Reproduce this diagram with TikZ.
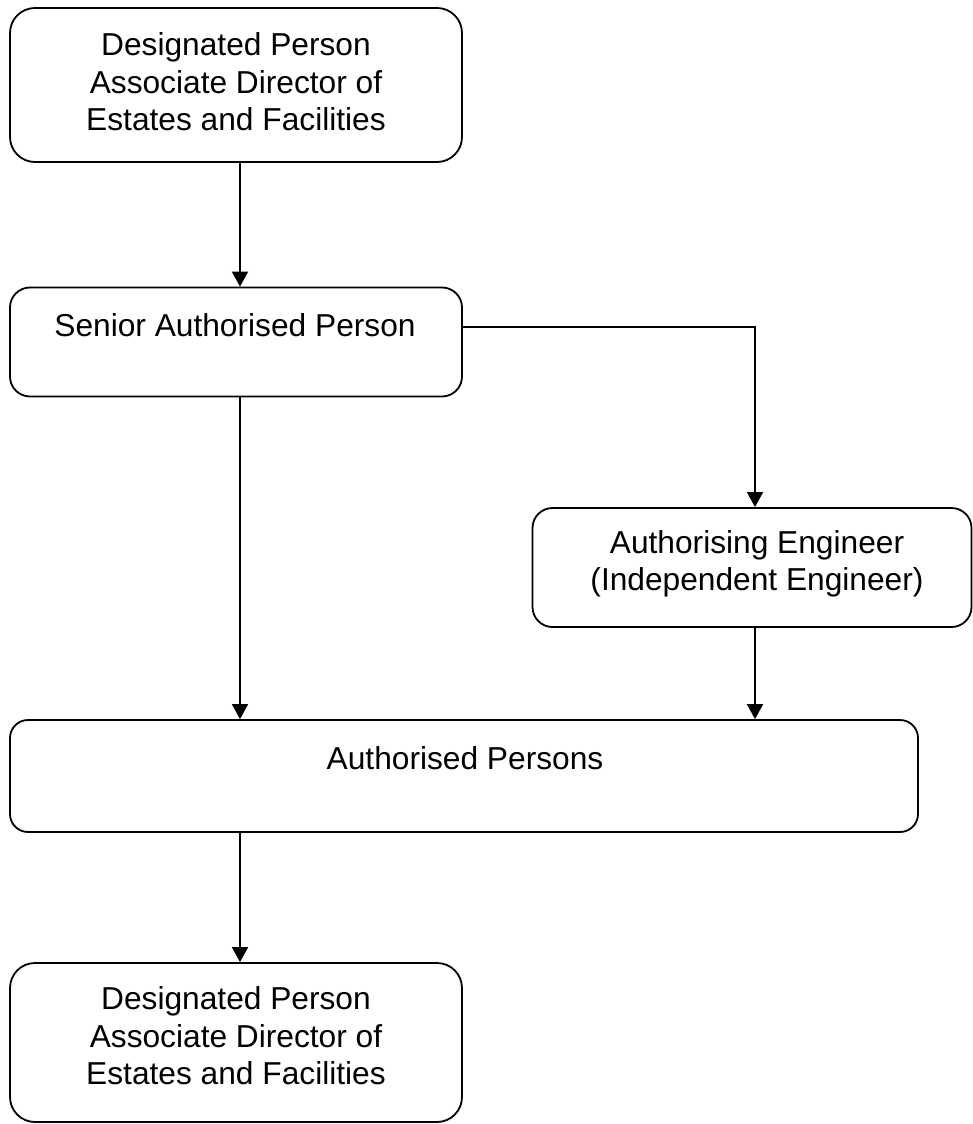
\documentclass[tikz,border=0pt]{standalone}
\usepackage{fontspec}
\setmainfont{Liberation Sans}
\usetikzlibrary{arrows.meta}
\begin{document}
\begin{tikzpicture}[x=1pt,y=-1pt,
  box/.style={draw, line width=1.8pt, rounded corners=#1, inner sep=0pt},
  box/.default=20pt,
  txt/.style={align=center, inner sep=0pt, font=\fontsize{31.7}{37.5}\selectfont},
  arr/.style={line width=1.8pt, -{Triangle[length=15pt,width=16pt]}}]
\useasboundingbox (0,0) rectangle (973,1124);
% boxes
\node[box=25pt, minimum width=452pt, minimum height=154pt] (dp1) at (236,85) {};
\node[box=20pt, minimum width=452pt, minimum height=109pt] (sap) at (236,342) {};
\node[box=20pt, minimum width=439pt, minimum height=119pt] (ae) at (752,567.5) {};
\node[box=18pt, minimum width=908pt, minimum height=112pt] (ap) at (464,776) {};
\node[box=25pt, minimum width=452pt, minimum height=159pt] (dp2) at (236,1042.5) {};
% texts
\node[txt] (t1) at (236,82) {Designated Person\\Associate Director of\\Estates and Facilities};
\node[txt] (t2) at (235,325) {Senior Authorised Person};
\node[txt] (t3) at (757,564) {Authorising Engineer\\(Independent Engineer)};
\node[txt] (t4) at (465,758) {Authorised Persons};
\node[txt] (t5) at (236,1036) {Designated Person\\Associate Director of\\Estates and Facilities};
% connectors
\draw[arr] ([xshift=4pt]dp1.south) -- ([xshift=4pt]sap.north);
\draw[arr] ([yshift=15pt]sap.east) -| ([xshift=3pt]ae.north);
\draw[arr] ([xshift=4pt]sap.south) -- ([xshift=4pt]sap.south |- ap.north);
\draw[arr] ([xshift=3pt]ae.south) -- ([xshift=3pt]ae.south |- ap.north);
\draw[arr] ([xshift=4pt]dp2.north |- ap.south) -- ([xshift=4pt]dp2.north);
\end{tikzpicture}
\end{document}
